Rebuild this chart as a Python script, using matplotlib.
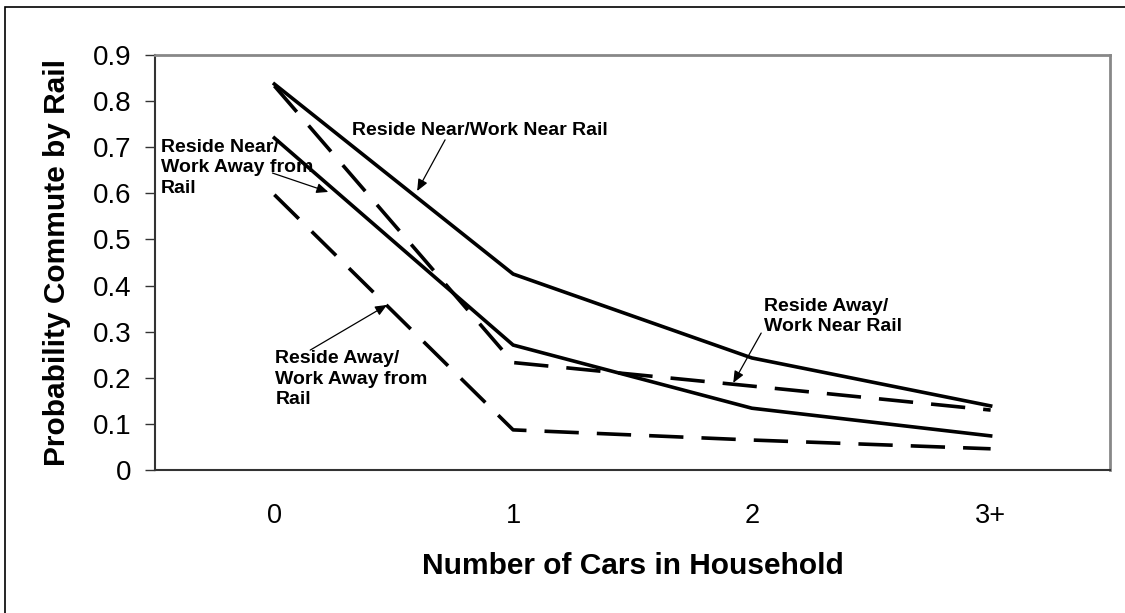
import matplotlib
matplotlib.use("Agg")
import matplotlib.pyplot as plt
import matplotlib.patches as patches

plt.rcParams['font.family'] = ['Liberation Sans', 'DejaVu Sans']

cars = ["0", "1", "2", "3+"]
near_near = [0.837, 0.425, 0.243, 0.139]
near_away = [0.72, 0.271, 0.134, 0.074]
away_near = [0.833, 0.233, 0.182, 0.130]
away_away = [0.597, 0.087, 0.065, 0.046]

W, H = 1125, 613
fig = plt.figure(figsize=(W / 100, H / 100), dpi=100)
ax = fig.add_axes([155 / W, 1 - 470 / H, (1110 - 155) / W, (470 - 55) / H])

xs = list(range(len(cars)))
lw = 2.6
ax.plot(xs, near_near, color='black', lw=lw, solid_joinstyle='miter')
ax.plot(xs, near_away, color='black', lw=lw, solid_joinstyle='miter')
ax.plot(xs, away_near, color='black', lw=lw, dashes=(9.5, 5.0))
ax.plot(xs, away_away, color='black', lw=lw, dashes=(9.5, 5.0))

ax.set_xlim(-0.5, len(cars) - 0.5)
ax.set_ylim(0, 0.9)
ax.set_xticks(xs)
ax.set_xticklabels(cars)
ax.set_yticks([i / 10 for i in range(10)])
ax.set_yticklabels(["0"] + ["%.1f" % (i / 10) for i in range(1, 10)])
ax.tick_params(axis='x', length=0, pad=24, labelsize=19.5)
ax.tick_params(axis='y', length=7, width=1, direction='out', pad=10, labelsize=20,
               color='#333333')

for side in ['left', 'bottom']:
    ax.spines[side].set_color('#333333')
    ax.spines[side].set_linewidth(1.5)
for side in ['top', 'right']:
    ax.spines[side].set_color('#888888')
    ax.spines[side].set_linewidth(2)

ax.set_xlabel("Number of Cars in Household", fontsize=21.5, fontweight='bold', labelpad=16)
ax.set_ylabel("Probability Commute by Rail", fontsize=21.5, fontweight='bold', labelpad=16)

# annotations
tf = dict(fontsize=14, fontweight='bold', va='center', ha='left', linespacing=1.28)
arr = dict(arrowstyle='-|>,head_length=0.7,head_width=0.3', color='black', lw=0.9,
           shrinkA=0, shrinkB=0)

ax.text(0.326, 0.737, "Reside Near/Work Near Rail", **tf)
ax.annotate('', xy=(0.598, 0.605), xytext=(0.715, 0.716), arrowprops=arr)

ax.text(-0.476, 0.655, "Reside Near/\nWork Away from\nRail", **tf)
ax.annotate('', xy=(0.226, 0.603), xytext=(-0.008, 0.644), arrowprops=arr)

ax.text(2.052, 0.333, "Reside Away/\nWork Near Rail", **tf)
ax.annotate('', xy=(1.922, 0.189), xytext=(2.039, 0.297), arrowprops=arr)

ax.text(0.004, 0.197, "Reside Away/\nWork Away from\nRail", **tf)
ax.annotate('', xy=(0.472, 0.358), xytext=(0.150, 0.260), arrowprops=arr)

# outer chart frame
fig.patches.append(patches.Rectangle((5 / W, -0.01), 1.02, 1 - 7 / H + 0.01,
                                     transform=fig.transFigure, fill=False,
                                     edgecolor='black', lw=1.2))

fig.savefig("out.png", dpi=100)
